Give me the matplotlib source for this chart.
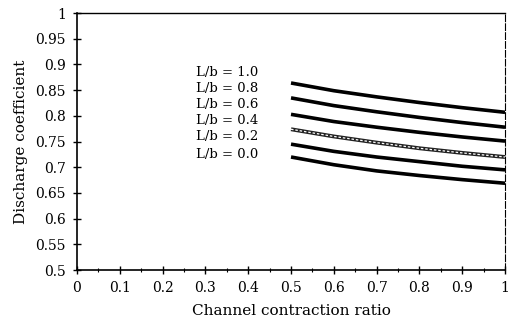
import matplotlib.pyplot as plt
from matplotlib.ticker import MultipleLocator

plt.rcParams['font.family'] = ['DejaVu Serif']

# contraction ratio
ratio = [0.5, 0.6, 0.7, 0.8, 0.9, 1.0]

# discharge coefficient per L/b
cd_10 = [0.864, 0.849, 0.837, 0.826, 0.816, 0.807]
cd_08 = [0.835, 0.820, 0.808, 0.797, 0.787, 0.778]
cd_06 = [0.803, 0.789, 0.778, 0.768, 0.759, 0.751]
cd_04 = [0.774, 0.760, 0.748, 0.737, 0.728, 0.720]
cd_02 = [0.745, 0.731, 0.720, 0.711, 0.702, 0.695]
cd_00 = [0.720, 0.705, 0.693, 0.684, 0.676, 0.669]

labels = ['L/b = 1.0', 'L/b = 0.8', 'L/b = 0.6', 'L/b = 0.4', 'L/b = 0.2', 'L/b = 0.0']
label_y = [0.885, 0.854, 0.823, 0.792, 0.759, 0.724]

fig = plt.figure(figsize=(5.22, 3.27), dpi=100)
ax = fig.add_axes([0.1475, 0.174, 0.82, 0.786])

for cd in [cd_10, cd_08, cd_06, cd_02, cd_00]:
    ax.plot(ratio, cd, color='black', lw=2.6, solid_capstyle='butt')

# the L/b = 0.4 curve is drawn hatched
ax.plot(ratio, cd_04, color='#222222', lw=2.8, solid_capstyle='butt')
ax.plot(ratio, cd_04, color='white', lw=0.9, ls=(0, (2, 1.5)))

for lab, yy in zip(labels, label_y):
    ax.text(0.278, yy, lab, fontsize=9.5, va='center', ha='left')

ax.set_xlim(0, 1)
ax.set_ylim(0.5, 1)
ax.xaxis.set_minor_locator(MultipleLocator(0.05))
ax.set_xticks([0, 0.1, 0.2, 0.3, 0.4, 0.5, 0.6, 0.7, 0.8, 0.9, 1.0])
ax.set_xticklabels(['0', '0.1', '0.2', '0.3', '0.4', '0.5', '0.6', '0.7', '0.8', '0.9', '1'])
ax.set_yticks([0.5, 0.55, 0.6, 0.65, 0.7, 0.75, 0.8, 0.85, 0.9, 0.95, 1.0])
ax.set_yticklabels(['0.5', '0.55', '0.6', '0.65', '0.7', '0.75', '0.8', '0.85', '0.9', '0.95', '1'])

ax.tick_params(axis='both', which='major', direction='inout', length=6, width=1,
               labelsize=10, pad=5)
ax.tick_params(axis='x', which='minor', direction='inout', length=3, width=0.8)

ax.spines['left'].set_linewidth(1.2)
ax.spines['bottom'].set_linewidth(1.2)
ax.spines['top'].set_linewidth(1.0)
ax.spines['right'].set_linewidth(0.8)
ax.spines['right'].set_linestyle((0, (6, 2)))

ax.set_xlabel('Channel contraction ratio', fontsize=11, labelpad=6)
ax.set_ylabel('Discharge coefficient', fontsize=11, labelpad=5)

fig.savefig('out.png', dpi=100)
